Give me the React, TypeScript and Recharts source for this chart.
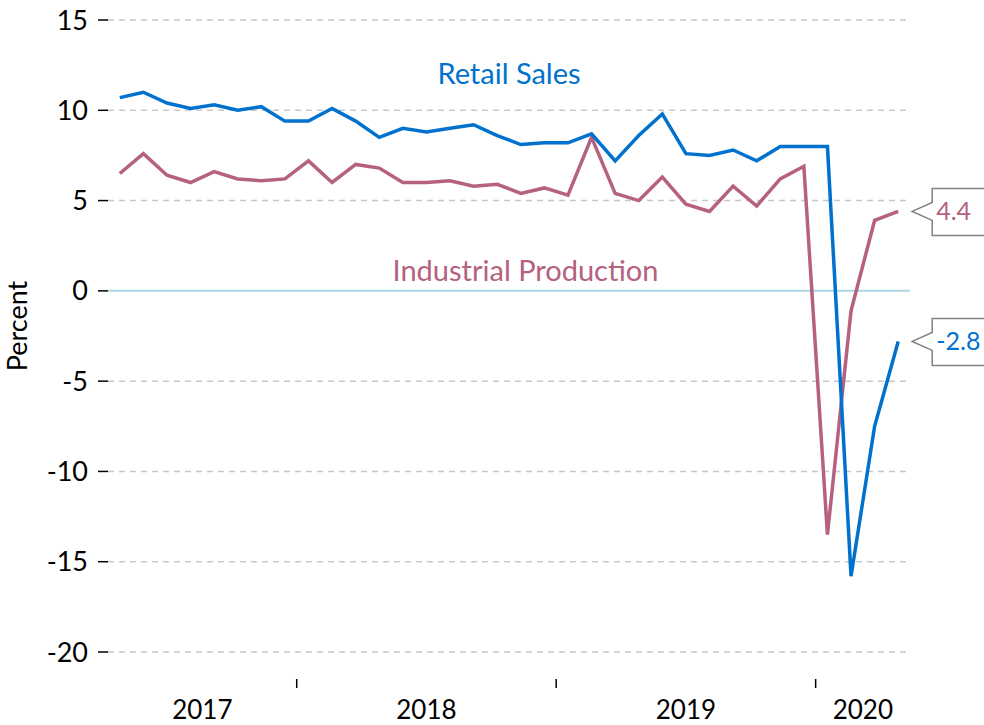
import React from "react";
import {
  LineChart,
  Line,
  XAxis,
  YAxis,
  CartesianGrid,
  ReferenceLine,
  ReferenceDot,
  LabelList,
} from "recharts";

// China monthly data, Jan-Feb reported combined
const periods = [
  "2017-05", "2017-06", "2017-07", "2017-08", "2017-09", "2017-10", "2017-11", "2017-12",
  "2018-02", "2018-03", "2018-04", "2018-05", "2018-06", "2018-07", "2018-08", "2018-09", "2018-10", "2018-11", "2018-12",
  "2019-02", "2019-03", "2019-04", "2019-05", "2019-06", "2019-07", "2019-08", "2019-09", "2019-10", "2019-11", "2019-12",
  "2020-02", "2020-03", "2020-04", "2020-05",
];

const retailSales = [
  10.7, 11.0, 10.4, 10.1, 10.3, 10.0, 10.2, 9.4,
  9.4, 10.1, 9.4, 8.5, 9.0, 8.8, 9.0, 9.2, 8.6, 8.1, 8.2,
  8.2, 8.7, 7.2, 8.6, 9.8, 7.6, 7.5, 7.8, 7.2, 8.0, 8.0,
  8.0, -15.8, -7.5, -2.8,
];

const industrialProduction = [
  6.5, 7.6, 6.4, 6.0, 6.6, 6.2, 6.1, 6.2,
  7.2, 6.0, 7.0, 6.8, 6.0, 6.0, 6.1, 5.8, 5.9, 5.4, 5.7,
  5.3, 8.5, 5.4, 5.0, 6.3, 4.8, 4.4, 5.8, 4.7, 6.2, 6.9,
  -13.5, -1.1, 3.9, 4.4,
];

const yTicks = [-20, -15, -10, -5, 0, 5, 10, 15];

const BLUE = "#0072CE";
const MAUVE = "#B5617F";
const FONT = "Lato, 'Open Sans', sans-serif";

const data = periods.map((p, i) => ({
  idx: i,
  period: p,
  retail: retailSales[i],
  industrial: industrialProduction[i],
}));

const years = periods.map((p) => p.slice(0, 4));
const yearNames = years.filter((y, i) => i === 0 || years[i - 1] !== y);
const boundaries = years
  .map((y, i) => (i > 0 && years[i - 1] !== y ? i - 0.5 : null))
  .filter((v): v is number => v !== null);
const edges = [-0.5, ...boundaries, periods.length - 0.5];
const centers = yearNames.map((_, i) => (edges[i] + edges[i + 1]) / 2);

function XTick(props: any) {
  const { x, y, payload } = props;
  const v = payload.value;
  const ci = centers.indexOf(v);
  if (ci >= 0) {
    return (
      <text x={x} y={y + 65} textAnchor="middle" fontSize={26} fontFamily={FONT} fill="#000">
        {yearNames[ci]}
      </text>
    );
  }
  return <line x1={x} x2={x} y1={y + 25} y2={y + 34} stroke="#000" strokeWidth={1.5} />;
}

function makeCallout(color: string) {
  return (props: any) => {
    const { x, y, value, index } = props;
    if (index !== periods.length - 1) return null;
    const d = `M${x + 14},${y} L${x + 34},${y - 9} L${x + 34},${y - 23} L${x + 120},${y - 23} L${x + 120},${y + 24} L${x + 34},${y + 24} L${x + 34},${y + 9} Z`;
    return (
      <g>
        <path d={d} fill="#fff" stroke="#808080" strokeWidth={1.5} />
        <text x={x + 38} y={y} dy="0.35em" fontSize={25} fontFamily={FONT} fill={color}>
          {Number(value).toFixed(1)}
        </text>
      </g>
    );
  };
}

export default function App() {
  return (
    <div style={{ position: "absolute", left: 0, top: 0, width: 984, height: 725, background: "#fff" }}>
      <LineChart
        width={984}
        height={725}
        data={data}
        margin={{ top: 20, right: 74, left: 0, bottom: 0 }}
      >
        <CartesianGrid
          vertical={false}
          horizontalValues={yTicks.filter((t) => t !== 0)}
          stroke="#c8c8c8"
          strokeWidth={1.5}
          strokeDasharray="6 5"
        />
        <ReferenceLine y={0} stroke="#a9d6e1" strokeWidth={2} />
        <XAxis
          type="number"
          dataKey="idx"
          domain={[-0.5, periods.length - 0.5]}
          ticks={[...centers, ...boundaries]}
          interval={0}
          tick={<XTick />}
          tickLine={false}
          axisLine={false}
          tickSize={0}
          height={73}
        />
        <YAxis
          domain={[-20, 15]}
          ticks={yTicks}
          interval={0}
          width={108}
          axisLine={false}
          tickSize={10}
          tickMargin={10}
          tickLine={{ stroke: "#000", strokeWidth: 1.5 }}
          tick={{ fill: "#000", fontSize: 27, fontFamily: FONT }}
          label={{
            value: "Percent",
            angle: -90,
            position: "insideLeft",
            dx: 12,
            dy: -10,
            style: { fill: "#000", fontSize: 27, fontFamily: FONT, textAnchor: "middle" },
          }}
        />
        <ReferenceDot
          x={16.5}
          y={12}
          r={0}
          fill="none"
          stroke="none"
          label={{ value: "Retail Sales", position: "center", fill: BLUE, fontSize: 29, fontFamily: FONT }}
        />
        <ReferenceDot
          x={17.2}
          y={1.1}
          r={0}
          fill="none"
          stroke="none"
          label={{ value: "Industrial Production", position: "center", fill: MAUVE, fontSize: 29, fontFamily: FONT }}
        />
        <Line
          type="linear"
          dataKey="industrial"
          stroke={MAUVE}
          strokeWidth={3.5}
          dot={false}
          isAnimationActive={false}
        >
          <LabelList dataKey="industrial" content={makeCallout(MAUVE)} />
        </Line>
        <Line
          type="linear"
          dataKey="retail"
          stroke={BLUE}
          strokeWidth={3.5}
          dot={false}
          isAnimationActive={false}
        >
          <LabelList dataKey="retail" content={makeCallout(BLUE)} />
        </Line>
      </LineChart>
    </div>
  );
}
